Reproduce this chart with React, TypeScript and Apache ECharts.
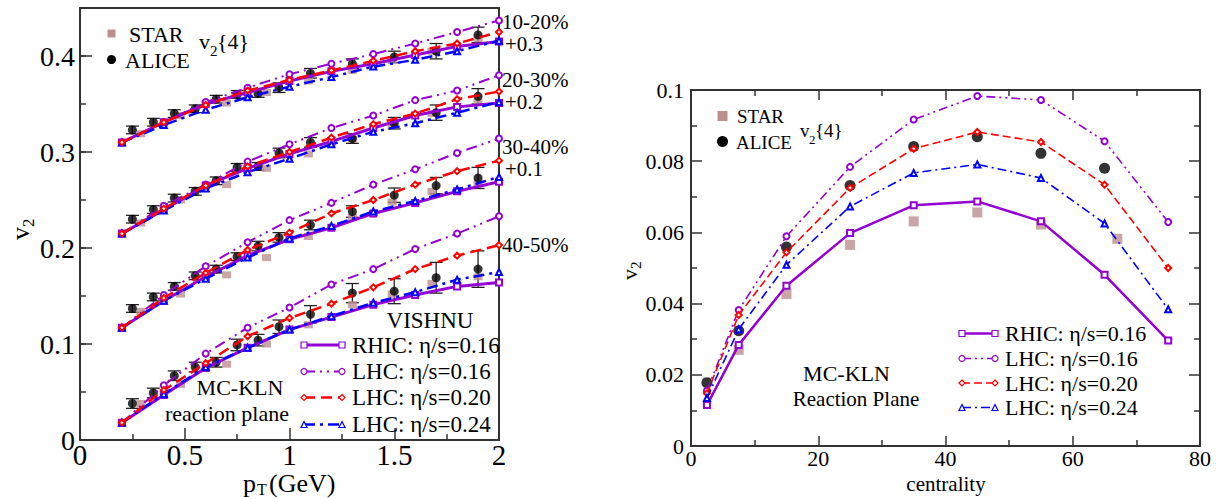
import React, { useEffect, useRef } from "react";
import * as echarts from "echarts";

// ---------- left panel: v2{4}(pT) for four centrality bins ----------
const binLabels = ["10-20%", "20-30%", "30-40%", "40-50%"];
const binOffsets = [0.3, 0.2, 0.1, 0];
const binOffsetLabels = ["+0.3", "+0.2", "+0.1", ""];

const ptModel = [0.2, 0.4, 0.6, 0.8, 1.0, 1.2, 1.4, 1.6, 1.8, 2.0];
const ptAlice = [0.25, 0.35, 0.45, 0.55, 0.65, 0.75, 0.85, 0.95, 1.1, 1.3, 1.5, 1.7, 1.9];
const ptStar = [0.29, 0.48, 0.7, 0.89, 1.09, 1.3, 1.49, 1.68, 1.9];

// VISHNU, MC-KLN reaction plane (values before the vertical offsets)
const rhic016Pt = [
  [0.010, 0.031, 0.050, 0.062, 0.074, 0.084, 0.092, 0.101, 0.110, 0.115],
  [0.015, 0.040, 0.065, 0.083, 0.098, 0.111, 0.125, 0.138, 0.147, 0.151],
  [0.017, 0.045, 0.070, 0.092, 0.109, 0.121, 0.136, 0.147, 0.159, 0.169],
  [0.018, 0.047, 0.075, 0.096, 0.115, 0.128, 0.141, 0.151, 0.160, 0.164],
];
const lhc016Pt = [
  [0.010, 0.031, 0.052, 0.067, 0.081, 0.092, 0.102, 0.113, 0.125, 0.137],
  [0.015, 0.044, 0.066, 0.090, 0.108, 0.125, 0.138, 0.154, 0.164, 0.180],
  [0.017, 0.051, 0.081, 0.106, 0.129, 0.147, 0.166, 0.182, 0.199, 0.214],
  [0.018, 0.057, 0.090, 0.117, 0.138, 0.162, 0.178, 0.199, 0.215, 0.233],
];
const lhc020Pt = [
  [0.010, 0.031, 0.049, 0.064, 0.075, 0.085, 0.095, 0.105, 0.113, 0.125],
  [0.015, 0.041, 0.065, 0.085, 0.100, 0.115, 0.129, 0.140, 0.155, 0.163],
  [0.017, 0.048, 0.074, 0.098, 0.116, 0.136, 0.150, 0.166, 0.180, 0.191],
  [0.018, 0.052, 0.080, 0.108, 0.127, 0.142, 0.159, 0.178, 0.192, 0.203],
];
const lhc024Pt = [
  [0.010, 0.028, 0.044, 0.057, 0.068, 0.078, 0.089, 0.096, 0.105, 0.116],
  [0.015, 0.039, 0.062, 0.079, 0.093, 0.108, 0.121, 0.130, 0.141, 0.152],
  [0.017, 0.045, 0.068, 0.090, 0.110, 0.123, 0.138, 0.149, 0.161, 0.174],
  [0.018, 0.048, 0.076, 0.096, 0.115, 0.129, 0.143, 0.154, 0.167, 0.175],
];

// ALICE v2{4} with uncertainties
const alicePt = [
  [0.023, 0.031, 0.040, 0.045, 0.055, 0.060, 0.061, 0.067, 0.082, 0.092, 0.099, 0.105, 0.122],
  [0.030, 0.040, 0.052, 0.059, 0.070, 0.084, 0.085, 0.099, 0.110, 0.114, 0.130, 0.141, 0.158],
  [0.037, 0.049, 0.060, 0.071, 0.078, 0.091, 0.102, 0.111, 0.124, 0.138, 0.155, 0.165, 0.173],
  [0.038, 0.049, 0.067, 0.076, 0.081, 0.099, 0.104, 0.118, 0.131, 0.153, 0.155, 0.169, 0.178],
];
const aliceErrPt = [
  [0.004, 0.004, 0.004, 0.004, 0.004, 0.004, 0.004, 0.005, 0.005, 0.005, 0.006, 0.008, 0.008],
  [0.004, 0.004, 0.004, 0.004, 0.004, 0.004, 0.004, 0.005, 0.005, 0.005, 0.006, 0.008, 0.008],
  [0.004, 0.004, 0.004, 0.004, 0.004, 0.004, 0.005, 0.005, 0.005, 0.006, 0.0075, 0.0085, 0.011],
  [0.005, 0.005, 0.005, 0.005, 0.005, 0.006, 0.006, 0.007, 0.009, 0.010, 0.013, 0.016, 0.019],
];
// STAR v2{4}
const starPt = [
  [0.019, 0.038, 0.051, 0.062, 0.074, 0.085, 0.096, 0.105, 0.118],
  [0.026, 0.050, 0.066, 0.083, 0.098, 0.113, 0.128, 0.140, 0.152],
  [0.034, 0.052, 0.072, 0.090, 0.112, 0.132, 0.148, 0.159, 0.167],
  [0.038, 0.058, 0.079, 0.100, 0.120, 0.141, 0.152, 0.163, 0.170],
];

// ---------- right panel: integrated v2{4} vs centrality ----------
const centModel = [2.5, 7.5, 15, 25, 35, 45, 55, 65, 75];
const rhic016Cent = [0.0115, 0.0284, 0.045, 0.0598, 0.0676, 0.0687, 0.0631, 0.0481, 0.0296];
const lhc016Cent = [0.0155, 0.0382, 0.0589, 0.0784, 0.0917, 0.0983, 0.0972, 0.0856, 0.0629];
const lhc020Cent = [0.0148, 0.0368, 0.0544, 0.0725, 0.0835, 0.0882, 0.0854, 0.0734, 0.05];
const lhc024Cent = [0.0135, 0.0328, 0.0509, 0.0673, 0.0767, 0.0791, 0.0753, 0.0625, 0.0384];
const centStar = [7.5, 15, 25, 35, 45, 55, 67];
const starCent = [0.027, 0.0427, 0.0565, 0.0631, 0.0656, 0.0622, 0.0582];
const centAlice = [2.5, 7.5, 15, 25, 35, 45, 55, 65];
const aliceCent = [0.0178, 0.0324, 0.0559, 0.0732, 0.0841, 0.0869, 0.0822, 0.078];

const modelNames = ["RHIC: η/s=0.16", "LHC: η/s=0.16", "LHC: η/s=0.20", "LHC: η/s=0.24"];

const FONT = "Liberation Serif";
const VIOLET = "#9400d3";
const BROWN = "#bc8f8f";

type Style = {
  color: string;
  symbol: string;
  kind: string;
  dashL: number[] | "solid";
  dashR: number[] | "solid";
  widthL: number;
  widthR: number;
};
const modelStyles: Style[] = [
  { color: VIOLET, symbol: "emptyRect", kind: "rect", dashL: "solid", dashR: "solid", widthL: 3, widthR: 2.5 },
  { color: VIOLET, symbol: "emptyCircle", kind: "circle", dashL: [11, 5, 2, 5, 2, 5], dashR: [9, 4, 2, 4, 2, 4], widthL: 2, widthR: 1.6 },
  { color: "#ff0000", symbol: "emptyDiamond", kind: "diamond", dashL: [11, 6], dashR: [8, 4], widthL: 2.5, widthR: 1.6 },
  { color: "#0000ff", symbol: "emptyTriangle", kind: "triangle", dashL: [11, 5, 3, 5], dashR: [9, 4, 2, 4], widthL: 2.5, widthR: 1.6 },
];

const r4 = (v: number) => Math.round(v * 10000) / 10000;

function errorBarRenderer(hw: number) {
  return (params: any, api: any) => {
    const x = api.value(0);
    const y = api.value(1);
    const e = api.value(2);
    const p1 = api.coord([x, y + e]);
    const p2 = api.coord([x, y - e]);
    const style = { stroke: "#222", lineWidth: 1.3 };
    return {
      type: "group",
      children: [
        { type: "line", shape: { x1: p1[0], y1: p1[1], x2: p2[0], y2: p2[1] }, style },
        { type: "line", shape: { x1: p1[0] - hw, y1: p1[1], x2: p1[0] + hw, y2: p1[1] }, style },
        { type: "line", shape: { x1: p2[0] - hw, y1: p2[1], x2: p2[0] + hw, y2: p2[1] }, style },
      ],
    };
  };
}

function legendSymbol(kind: string, cx: number, cy: number, color: string, s: number) {
  const style = { fill: "#fff", stroke: color, lineWidth: 1.2 };
  const h = s / 2;
  if (kind === "rect") return { type: "rect", shape: { x: cx - h, y: cy - h, width: s, height: s }, style, z: 10 };
  if (kind === "circle") return { type: "circle", shape: { cx, cy, r: h }, style, z: 10 };
  if (kind === "diamond")
    return { type: "polygon", shape: { points: [[cx, cy - h], [cx + h, cy], [cx, cy + h], [cx - h, cy]] }, style, z: 10 };
  return { type: "polygon", shape: { points: [[cx, cy - h], [cx + h, cy + h], [cx - h, cy + h]] }, style, z: 10 };
}

function txt(text: string, x: number, y: number, fs: number, align = "left") {
  return {
    type: "text",
    x,
    y,
    style: {
      text,
      fontSize: fs,
      fontFamily: FONT,
      lineHeight: fs,
      fill: "#000",
      align,
      verticalAlign: "middle",
    },
    z: 10,
  };
}

function legendRows(x1: number, x2: number, tx: number, ys: number[], fs: number, symSize: number, side: "L" | "R") {
  const out: any[] = [];
  modelStyles.forEach((st, i) => {
    const y = ys[i];
    const dash = side === "L" ? st.dashL : st.dashR;
    out.push({
      type: "line",
      shape: { x1, y1: y, x2, y2: y },
      style: { stroke: st.color, lineWidth: side === "L" ? st.widthL : st.widthR, lineDash: dash === "solid" ? null : dash },
      z: 9,
    });
    out.push(legendSymbol(st.kind, x1, y, st.color, symSize));
    out.push(legendSymbol(st.kind, x2, y, st.color, symSize));
    out.push(txt(modelNames[i], tx, y, fs));
  });
  return out;
}

export default function App() {
  const ref = useRef<HTMLDivElement>(null);

  useEffect(() => {
    if (!ref.current) return;
    const chart = echarts.init(ref.current, undefined, { renderer: "svg" });

    const axisLine = { show: true, onZero: false, lineStyle: { color: "#333", width: 2 } };
    const tickStyle = { color: "#333", width: 1.5 };
    const label = (fs: number, margin: number) => ({
      fontSize: fs,
      fontFamily: FONT,
      color: "#000",
      margin,
      formatter: (v: number) => String(Number(v.toFixed(2))),
    });

    const series: any[] = [];

    // left panel: data first, model curves on top
    binOffsets.forEach((off, b) => {
      series.push({
        type: "custom",
        xAxisIndex: 0,
        yAxisIndex: 0,
        z: 2,
        renderItem: errorBarRenderer(6.5),
        data: ptAlice.map((x, i) => [x, r4(alicePt[b][i] + off), aliceErrPt[b][i]]),
      });
      series.push({
        type: "scatter",
        xAxisIndex: 0,
        yAxisIndex: 0,
        z: 2,
        symbol: "rect",
        symbolSize: [9, 7],
        itemStyle: { color: BROWN },
        data: ptStar.map((x, i) => [x, r4(starPt[b][i] + off)]),
      });
      series.push({
        type: "scatter",
        xAxisIndex: 0,
        yAxisIndex: 0,
        z: 3,
        symbol: "circle",
        symbolSize: 9,
        itemStyle: { color: "#000" },
        data: ptAlice.map((x, i) => [x, r4(alicePt[b][i] + off)]),
      });
    });
    const leftModels = [rhic016Pt, lhc016Pt, lhc024Pt, lhc020Pt];
    const leftStyles = [modelStyles[0], modelStyles[1], modelStyles[3], modelStyles[2]];
    binOffsets.forEach((off, b) => {
      leftModels.forEach((m, k) => {
        const st = leftStyles[k];
        series.push({
          type: "line",
          xAxisIndex: 0,
          yAxisIndex: 0,
          z: 4 + k,
          symbol: st.symbol,
          symbolSize: 6,
          showSymbol: true,
          lineStyle: { color: st.color, width: st.widthL, type: st.dashL },
          itemStyle: { color: st.color, borderWidth: 1.2 },
          data: ptModel.map((x, i) => [x, r4(m[b][i] + off)]),
        });
      });
    });

    // right panel
    series.push({
      type: "scatter",
      xAxisIndex: 2,
      yAxisIndex: 3,
      z: 2,
      symbol: "rect",
      symbolSize: 10,
      itemStyle: { color: BROWN },
      data: centStar.map((c, i) => [c, starCent[i]]),
    });
    series.push({
      type: "scatter",
      xAxisIndex: 2,
      yAxisIndex: 3,
      z: 2,
      symbol: "circle",
      symbolSize: 11,
      itemStyle: { color: "#000" },
      data: centAlice.map((c, i) => [c, aliceCent[i]]),
    });
    [rhic016Cent, lhc016Cent, lhc020Cent, lhc024Cent].forEach((m, k) => {
      const st = modelStyles[k];
      series.push({
        type: "line",
        xAxisIndex: 2,
        yAxisIndex: 3,
        z: 4 + k,
        symbol: st.symbol,
        symbolSize: 6,
        lineStyle: { color: st.color, width: st.widthR, type: st.dashR },
        itemStyle: { color: st.color, borderWidth: 1.1 },
        data: centModel.map((c, i) => [c, m[i]]),
      });
    });

    const graphic: any[] = [
      // left panel legend for data
      { type: "rect", shape: { x: 107.5, y: 29.5, width: 8, height: 8 }, style: { fill: BROWN }, z: 10 },
      txt("STAR", 129, 34, 22),
      { type: "circle", shape: { cx: 111.5, cy: 59.5, r: 4.5 }, style: { fill: "#000" }, z: 10 },
      txt("ALICE", 125, 60, 22),
      txt("v", 199, 41, 22),
      txt("2", 210, 51, 15),
      txt("{4}", 217, 41, 22),
      // centrality labels
      ...binLabels.map((s, b) => txt(s, 502, [22, 80, 147, 245][b], 21)),
      ...binOffsetLabels.filter((s) => s).map((s, b) => txt(s, 505, [44, 102, 169][b], 21)),
      txt("VISHNU", 430, 320, 23, "center"),
      ...legendRows(304, 342, 352, [345, 371.5, 397.5, 424.5], 23, 6, "L"),
      txt("MC-KLN", 240, 387, 22, "center"),
      txt("reaction plane", 227, 413, 22, "center"),
      // left axis titles
      txt("p", 243, 483, 26),
      txt("T", 257, 489, 16),
      txt("(GeV)", 269, 483, 26),
      {
        type: "group",
        x: 20,
        y: 240,
        rotation: Math.PI / 2,
        children: [txt("v", 0, 0, 26), txt("2", 13, 8, 17)],
      },
      // right panel legend for data
      { type: "rect", shape: { x: 717.5, y: 111, width: 10, height: 10 }, style: { fill: BROWN }, z: 10 },
      txt("STAR", 737, 116, 19),
      { type: "circle", shape: { cx: 722.5, cy: 141.5, r: 5.5 }, style: { fill: "#000" }, z: 10 },
      txt("ALICE", 736, 142, 19),
      txt("v", 800, 130, 19),
      txt("2", 809, 139, 13),
      txt("{4}", 815, 130, 19),
      txt("MC-KLN", 846.5, 373, 22, "center"),
      txt("Reaction Plane", 856, 398.5, 21, "center"),
      ...legendRows(962, 995, 1005, [333.5, 358.5, 383, 407.5], 22, 6, "R"),
      txt("centrality", 946, 484, 21, "center"),
      {
        type: "group",
        x: 629,
        y: 280,
        rotation: Math.PI / 2,
        children: [txt("v", 0, 0, 22), txt("2", 11, 7, 15)],
      },
    ];

    chart.setOption({
      animation: false,
      backgroundColor: "#fff",
      textStyle: { fontFamily: FONT },
      grid: [
        { left: 80, top: 8, width: 419, height: 432 },
        { left: 691, top: 90, width: 509, height: 356 },
      ],
      xAxis: [
        {
          gridIndex: 0,
          type: "value",
          min: 0,
          max: 2,
          interval: 0.5,
          axisLine,
          axisTick: { show: true, inside: true, length: 12, lineStyle: tickStyle },
          minorTick: { show: true, splitNumber: 2, length: 6, lineStyle: tickStyle },
          splitLine: { show: false },
          axisLabel: { ...label(29, 3), lineHeight: 24 },
        },
        {
          gridIndex: 0,
          type: "value",
          position: "top",
          min: 0,
          max: 2,
          axisLine,
          axisTick: { show: false },
          axisLabel: { show: false },
          splitLine: { show: false },
        },
        {
          gridIndex: 1,
          type: "value",
          min: 0,
          max: 80,
          interval: 20,
          axisLine,
          axisTick: { show: true, inside: true, length: 10, lineStyle: tickStyle },
          minorTick: { show: true, splitNumber: 2, length: 6, lineStyle: tickStyle },
          splitLine: { show: false },
          axisLabel: { ...label(22, 3), lineHeight: 19 },
        },
        {
          gridIndex: 1,
          type: "value",
          position: "top",
          min: 0,
          max: 80,
          interval: 20,
          axisLine,
          axisTick: { show: true, inside: true, length: 10, lineStyle: tickStyle },
          minorTick: { show: true, splitNumber: 2, length: 6, lineStyle: tickStyle },
          axisLabel: { show: false },
          splitLine: { show: false },
        },
      ],
      yAxis: [
        {
          gridIndex: 0,
          type: "value",
          min: 0,
          max: 0.45,
          interval: 0.1,
          axisLine,
          axisTick: { show: true, inside: true, length: 12, lineStyle: tickStyle },
          splitLine: { show: false },
          axisLabel: { ...label(28, 5), showMaxLabel: false },
        },
        {
          gridIndex: 0,
          type: "value",
          position: "left",
          min: 0,
          max: 0.45,
          interval: 0.05,
          axisLine: { show: false },
          axisTick: { show: true, inside: true, length: 6, lineStyle: tickStyle },
          axisLabel: { show: false },
          splitLine: { show: false },
        },
        {
          gridIndex: 0,
          type: "value",
          position: "right",
          min: 0,
          max: 0.45,
          axisLine,
          axisTick: { show: false },
          axisLabel: { show: false },
          splitLine: { show: false },
        },
        {
          gridIndex: 1,
          type: "value",
          min: 0,
          max: 0.1,
          interval: 0.02,
          axisLine,
          axisTick: { show: true, inside: true, length: 11, lineStyle: tickStyle },
          minorTick: { show: true, splitNumber: 2, length: 6, lineStyle: tickStyle },
          splitLine: { show: false },
          axisLabel: label(22, 7),
        },
        {
          gridIndex: 1,
          type: "value",
          position: "right",
          min: 0,
          max: 0.1,
          interval: 0.02,
          axisLine,
          axisTick: { show: true, inside: true, length: 11, lineStyle: tickStyle },
          minorTick: { show: true, splitNumber: 2, length: 6, lineStyle: tickStyle },
          axisLabel: { show: false },
          splitLine: { show: false },
        },
      ],
      series,
      graphic,
    });

    return () => chart.dispose();
  }, []);

  return <div ref={ref} style={{ position: "fixed", left: 0, top: 0, width: 1216, height: 499, background: "#fff" }} />;
}
